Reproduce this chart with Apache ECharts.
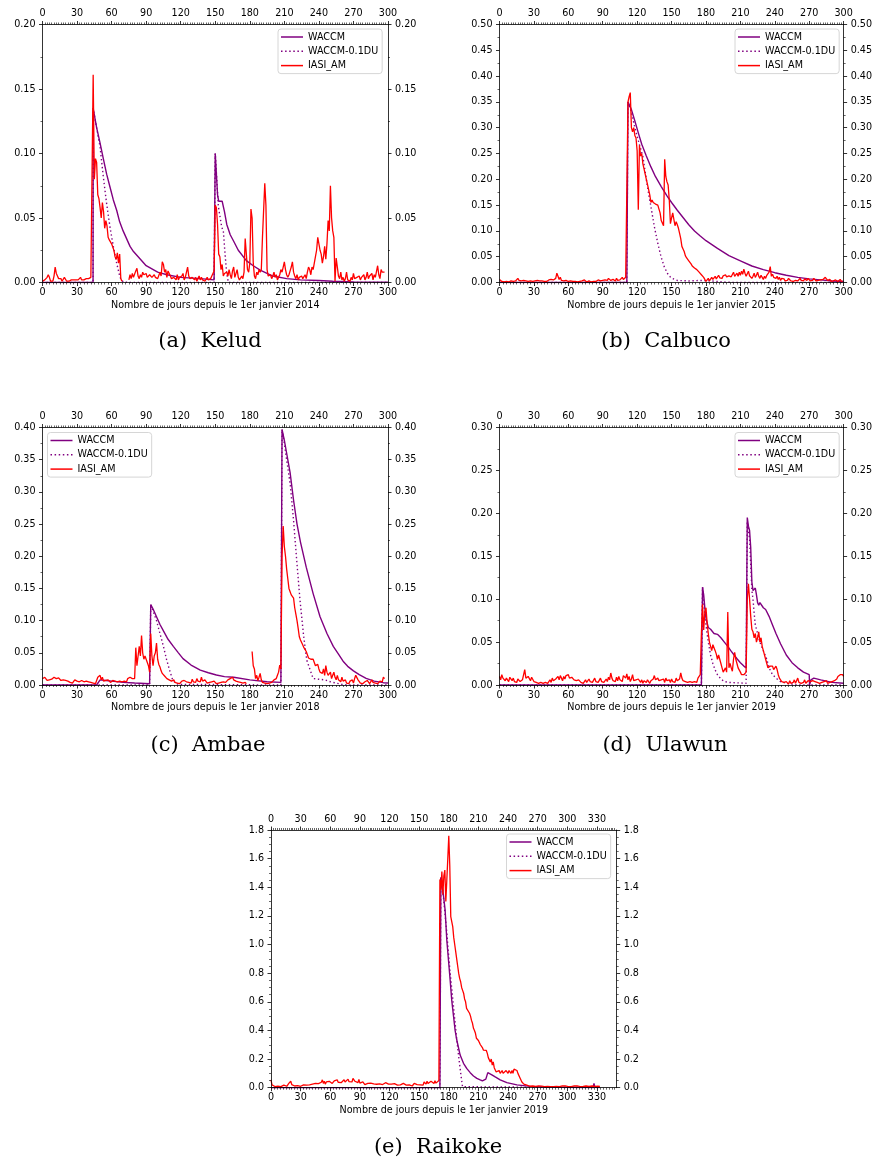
<!DOCTYPE html>
<html><head><meta charset="utf-8">
<script src="https://cdn.jsdelivr.net/npm/echarts@6/dist/echarts.min.js"></script>
<style>html,body{margin:0;padding:0;background:#fff}#c{width:875px;height:1162px}</style>
</head><body><div id="c"></div>
<script>
// ---------- tick labels ----------
const xTicks300 = [0,30,60,90,120,150,180,210,240,270,300];
const xTicks350 = [0,30,60,90,120,150,180,210,240,270,300,330];
const seriesNames = ['WACCM','WACCM-0.1DU','IASI_AM'];

// ---------- (a) Kelud : [day, value] ----------
const waccmKelud = [[0,0],[43.9,0],[44,0.135],[47,0.12],[50,0.108],[52.8,0.096],[55.7,0.084],[58.6,0.074],[61.5,0.064],[64.4,0.056],[67,0.047],[70,0.04],[73,0.034],[76,0.028],[79,0.024],[85,0.018],[90,0.013],[100,0.008],[108,0.006],[120,0.004],[137,0.003],[149,0.002],[150,0.1],[152,0.068],[153,0.063],[156,0.063],[158,0.055],[160,0.045],[163,0.037],[166,0.032],[170,0.025],[177,0.017],[183,0.013],[189,0.0096],[200,0.005],[212,0.003],[224,0.002],[240,0.0015],[252,0.001],[270,0.0005],[300,0.0003]];
const waccm01Kelud = [[0,0],[43.9,0],[44,0.135],[47,0.12],[50,0.105],[52.8,0.082],[55.7,0.061],[58.6,0.043],[61.5,0.028],[64.4,0.015],[67.3,0.004],[70,0.0005],[75,0],[149,0],[150,0.1],[152.7,0.059],[155.6,0.043],[157,0.04],[158.5,0.022],[160,0.007],[161.4,0],[300,0]];
const iasiKelud = [
.001,.002,.002,.003,.004,.006,.004,.001,.002,.001,
.005,.012,.007,.005,.003,.002,.003,.001,.002,.004,
.005,.001,.002,.001,.002,.002,.001,.002,.002,.002,
.003,.002,.003,.004,.002,.003,.002,.002,.003,.004,
.003,.002,.004,.003,.161,.080,.096,.093,.068,.065,
.058,.050,.062,.055,.042,.048,.044,.035,.033,.032,
.030,.029,.025,.020,.018,.023,.015,.022,.003,.001,
null,null,null,null,null,.002,.006,.003,.007,.004,
.003,.009,.011,.005,.003,.006,.004,.008,.006,.005,
.007,.004,.003,.006,.005,.004,.003,.006,.004,.005,
.003,.004,.008,.005,.016,.014,.008,.010,.004,.009,
.010,.005,.003,.002,.004,.003,.002,.006,.002,.004,
.003,.005,.007,.002,.004,.003,.012,.005,.003,.002,
.004,.003,.002,.004,.001,.003,.005,.002,.004,.002,
.003,.001,.002,.004,.002,.001,.003,.005,.007,.009,
.060,.058,.045,.022,.020,.010,.014,.005,.007,.006,
.008,.005,.010,.006,.003,.009,.012,.004,.003,.010,
.004,.002,.001,.005,.003,.008,.034,.033,.010,.008,
.015,.057,.050,.015,.005,.003,.008,.006,.010,.008,
.010,.035,.036,.077,.060,.010,.005,.004,.006,.003,
.005,.008,.004,.006,.002,.004,.006,.010,.008,.012,
.016,.010,.006,.004,.006,.009,.012,.016,.008,.005,
.003,.006,.002,.004,.003,.005,.003,.004,.006,.003,
.008,.012,.010,.006,.012,.010,.015,.020,.025,.035,
.034,.025,.022,.015,.020,.028,.018,.030,.048,.040,
.075,.050,.040,.035,.001,.019,.012,.005,.003,.008,
.002,.004,.001,.003,.008,.002,.003,.001,.004,.002,
.007,.003,.002,.004,.003,.005,.002,.004,.003,.006,
.002,.004,.008,.003,.005,.004,.007,.002,.006,.004,
.005,.013,.006,.003,.010,.008,.009,.008];

// ---------- (b) Calbuco ----------
const waccmCalbuco = [[0,0],[111,0],[112,0.35],[115,0.335],[118,0.313],[121,0.29],[124,0.268],[128,0.245],[132,0.224],[136,0.205],[141,0.186],[146,0.168],[150,0.155],[155,0.14],[160,0.126],[165,0.112],[170,0.1],[175,0.09],[180,0.081],[190,0.066],[200,0.052],[210,0.042],[220,0.032],[230,0.025],[240,0.019],[250,0.014],[260,0.01],[270,0.007],[280,0.005],[290,0.003],[300,0.002]];
const waccm01Calbuco = [[0,0],[111,0],[112,0.35],[115,0.33],[118,0.3],[121,0.275],[125,0.244],[129,0.185],[132,0.147],[135,0.108],[138,0.076],[140.8,0.05],[143.7,0.03],[146.6,0.017],[149.5,0.009],[155,0.004],[165,0.003],[175,0.004],[185,0.003],[195,0.001],[205,0],[300,0]];
const iasiCalbuco = [
.006,.004,.002,.003,.001,.004,.002,.003,.001,.002,
.003,.005,.002,.004,.003,.006,.008,.004,.002,.003,
.001,.004,.002,.003,.005,.002,.001,.003,.004,.002,
.005,.003,.002,.004,.006,.003,.002,.003,.001,.002,
.003,.002,.004,.005,.003,.006,.004,.005,.003,.008,
.018,.012,.006,.010,.004,.005,.003,.002,.004,.003,
.002,.004,.003,.003,.002,.004,.002,.003,.001,.003,
.002,.004,.003,.002,.005,.003,.001,.002,.003,.002,
.001,.003,.002,.004,.002,.003,.005,.002,.003,.006,
.004,.002,.005,.007,.004,.008,.006,.004,.003,.006,
.005,.003,.008,.004,.006,.005,.003,.010,.006,.004,
.010,.012,.350,.360,.368,.300,.292,.300,.285,.280,
.255,.141,.266,.245,.250,.230,.220,.210,.200,.190,
.188,.170,.155,.160,.155,.158,.152,.150,.150,.148,
.135,.120,.118,.110,.239,.205,.195,.189,.160,.114,
.125,.135,.135,.110,.118,.112,.105,.095,.085,.070,
.065,.060,.052,.048,.045,.042,.040,.036,.032,.030,
.028,.025,.025,.022,.020,.020,.015,.018,.010,.008,
.002,.004,.008,.003,.005,.010,.006,.008,.012,.007,
.010,.014,.009,.011,.008,.013,.010,.015,.011,.009,
.013,.016,.011,.014,.020,.012,.015,.018,.012,.020,
.014,.022,.016,.026,.018,.012,.017,.022,.013,.010,
.008,.012,.018,.010,.014,.020,.012,.008,.014,.010,
.006,.012,.008,.014,.015,.020,.031,.012,.016,.010,
.013,.008,.012,.006,.010,.004,.008,.005,.007,.003,
.006,.004,.008,.005,.003,.006,.002,.005,.004,.006,
.003,.005,.008,.004,.006,.003,.007,.005,.004,.008,
.005,.003,.006,.004,.008,.005,.003,.006,.004,.002,
.005,.003,.006,.004,.010,.007,.004,.003,.006,.002,
.004,.003,.001,.005,.003,.002,.004,.006,.002,.003];

// ---------- (c) Ambae ----------
const waccmAmbae = [[0,0],[47,0],[48,0.002],[50,0.008],[55,0.007],[60,0.006],[70,0.004],[80,0.003],[93,0.002],[94,0.125],[96,0.118],[99,0.106],[102,0.094],[105,0.084],[109,0.071],[113.6,0.06],[118,0.05],[122,0.041],[129,0.031],[137,0.023],[144,0.019],[151,0.0155],[158,0.013],[166,0.012],[180,0.008],[195,0.005],[207,0.004],[208,0.397],[210,0.38],[212,0.36],[215,0.33],[218,0.287],[221,0.25],[224,0.222],[229,0.183],[235,0.142],[241,0.106],[247,0.08],[252.5,0.06],[257,0.048],[261,0.037],[265,0.029],[270,0.022],[275,0.016],[281,0.0103],[288,0.006],[296,0.0036],[300,0.003]];
const waccm01Ambae = [[0,0],[93,0],[94,0.125],[96,0.115],[99,0.1],[102,0.08],[105,0.06],[107.8,0.039],[110.7,0.021],[113,0.008],[116,0.002],[120,0.001],[207,0],[208,0.397],[210,0.375],[212,0.35],[215,0.313],[218,0.256],[220.7,0.194],[223.6,0.132],[226.5,0.08],[229.4,0.039],[232.3,0.024],[235,0.01],[240,0.009],[245,0.008],[250,0.005],[255,0.003],[260,0.001],[265,0],[300,0]];
const iasiAmbae = [
.010,.008,.012,.009,.007,.010,.008,.011,.009,.010,
.012,.009,.010,.008,.011,.009,.007,.010,.008,.006,
.007,.005,.006,.008,.004,.005,.003,.006,.008,.010,
.006,.004,.005,.003,.007,.004,.005,.003,.006,.004,
.005,.003,.004,.006,.003,.005,.002,.004,.012,.010,
.015,.008,.012,.006,.009,.007,.005,.008,.006,.004,
.005,.007,.004,.006,.003,.005,.004,.006,.003,.005,
.004,.006,.008,.005,.010,.007,.012,.015,.010,.008,
.010,.058,.030,.045,.060,.045,.077,.050,.040,.045,
.048,.035,.030,.020,.080,.045,.030,.045,.050,.065,
.040,.032,.028,.022,.018,.020,.014,.012,.010,.012,
.008,.010,.006,.005,.008,.004,.006,.003,.005,.002,
.004,.006,.003,.007,.004,.005,.008,.004,.006,.003,
.009,.005,.007,.004,.010,.006,.008,.005,.012,.006,
.004,.008,.005,.003,.006,.004,.007,.005,.003,.006,
.004,.002,.005,.003,.006,.004,.002,.005,.007,.004,
.006,.008,.005,.010,.007,.012,.008,.010,.006,.009,
.005,.008,.004,.006,.003,.005,.004,.002,null,null,
null,null,.052,.030,.025,.010,.015,.007,.012,.018,
.008,.004,.006,.003,.005,.002,.004,.003,.006,.004,
.005,.008,.006,.010,.015,.020,.031,.025,.200,.247,
.215,.200,.180,.165,.150,.145,.140,.142,.135,.120,
.110,.100,.088,.075,.070,.066,.062,.058,.055,.052,
.050,.042,.043,.040,.038,.040,.035,.030,.028,.032,
.025,.020,.022,.018,.025,.015,.030,.020,.015,.012,
.020,.010,.015,.020,.012,.008,.015,.008,.010,.005,
.012,.006,.004,.008,.003,.005,.002,.006,.004,.008,
.003,.010,.015,.016,.008,.005,.003,.006,.002,.004,
.005,.003,.007,.004,.002,.005,.008,.004,.006,.003,
.005,.002,.004,.006,.003,.005,.012,.010];

// ---------- (d) Ulawun ----------
const waccmUlawun = [[0,0],[176,0],[177,0.114],[178,0.105],[179,0.09],[180,0.078],[182,0.067],[184,0.065],[187,0.06],[190,0.059],[193,0.055],[196,0.05],[199,0.045],[201.6,0.04],[204.5,0.035],[207.4,0.03],[210,0.026],[213,0.022],[215,0.02],[216,0.195],[217,0.185],[218,0.18],[219,0.16],[220,0.12],[221,0.11],[222,0.112],[223,0.113],[224,0.105],[225,0.096],[226,0.093],[227,0.096],[228,0.095],[230,0.09],[232,0.088],[235,0.08],[238,0.07],[241,0.06],[245,0.048],[250,0.035],[255,0.026],[260,0.02],[265,0.015],[270,0.012],[270.3,0],[271.5,0.006],[274,0.008],[280,0.006],[290,0.003],[300,0.002]];
const waccm01Ulawun = [[0,0],[176,0],[177,0.114],[178,0.095],[180,0.07],[182,0.05],[184,0.035],[186,0.025],[188,0.0175],[190,0.012],[193,0.007],[196,0.004],[200,0.003],[215,0.002],[216,0.19],[218,0.17],[220,0.11],[221,0.1],[222,0.084],[223,0.07],[225,0.06],[227,0.05],[230,0.04],[233,0.03],[235,0.02],[238,0.012],[242,0.007],[245,0.004],[250,0.002],[255,0.001],[260,0],[300,0]];
const iasiUlawun = [
.010,.006,.012,.008,.010,.005,.008,.006,.004,.009,
.007,.005,.008,.004,.006,.003,.007,.005,.004,.003,
.006,.004,.018,.008,.006,.010,.008,.005,.009,.007,
.004,.006,.003,.005,.002,.004,.003,.005,.002,.004,
.003,.005,.002,.004,.006,.003,.008,.005,.004,.007,
.005,.010,.006,.011,.008,.005,.010,.007,.011,.009,
.012,.008,.010,.009,.007,.006,.004,.005,.003,.006,
.004,.003,.005,.002,.004,.006,.003,.005,.007,.004,
.006,.003,.005,.008,.004,.006,.003,.005,.008,.004,
.006,.003,.005,.007,.004,.009,.006,.014,.008,.005,
.007,.004,.009,.005,.010,.006,.008,.004,.011,.012,
.008,.013,.006,.010,.004,.007,.012,.005,.003,.006,
.004,.007,.005,.003,.006,.002,.005,.004,.003,.006,
.004,.002,.005,.003,.007,.011,.006,.004,.008,.005,
.003,.006,.004,.007,.003,.008,.005,.004,.006,.003,
.007,.004,.006,.003,.008,.005,.004,.007,.014,.008,
.005,.007,.004,.006,.003,.005,.004,.006,.003,.005,
.004,.006,.003,.008,.010,.012,.060,.094,.064,.085,
.090,.072,.060,.050,.045,.040,.047,.046,.040,.036,
.030,.035,.030,.025,.020,.015,.013,.020,.015,.085,
.020,.025,.020,.016,.030,.038,.030,.025,.020,.020,
.015,.012,.010,.012,.010,.015,.100,.118,.100,.080,
.065,.062,.055,.060,.050,.055,.062,.050,.055,.045,
.040,.038,.030,.025,.020,.018,.022,.020,.022,.018,
.020,.022,.018,.012,.008,.006,.004,.005,.003,.002,
.004,.003,.001,.005,.002,.004,.003,.006,.002,.004,
.008,.003,.005,.002,.004,.003,.006,.002,.004,.005,
.003,.004,.002,.005,.003,.004,.002,.003,.005,.002,
.004,.003,.002,.004,.003,.005,.002,.004,.003,.002,
.004,.003,.005,.004,.007,.010,.012,.012,.013,.012,
.010];

// ---------- (e) Raikoke ----------
const waccmRaikoke = [[0,0],[171,0],[172,1.47],[174,1.38],[176.3,1.24],[178,1.03],[179.7,0.89],[181.4,0.75],[183,0.61],[184.8,0.5],[186.4,0.4],[188.1,0.333],[191.5,0.228],[194.9,0.17],[198.3,0.133],[201.7,0.105],[205,0.082],[208.4,0.065],[211.8,0.054],[214,0.047],[215.8,0.058],[217.5,0.06],[219.5,0.105],[221,0.095],[223.6,0.09],[227,0.075],[232,0.055],[238.8,0.035],[249,0.02],[262.5,0.009],[279,0.004],[296,0.002],[326,0.001],[327,0.03],[328,0.002],[333,0.001]];
const waccm01Raikoke = [[0,0],[171,0],[172,1.47],[174.6,1.33],[178,1.08],[181.4,0.8],[184.8,0.566],[188.1,0.333],[190.5,0.19],[192.5,0.077],[193.9,0.007],[195,0],[333,0]];
const iasiRaikoke = [
.055,.020,.010,.015,.008,.012,.020,.010,.006,.015,
.008,.012,.010,.018,.025,.015,.010,.020,.030,.030,
.045,.022,.015,.020,.012,.018,.010,.015,.008,.012,
.010,.018,.012,.020,.015,.010,.018,.012,.016,.020,
.022,.018,.025,.020,.028,.030,.025,.032,.028,.035,
.030,.038,.055,.030,.045,.025,.040,.050,.035,.045,
.038,.052,.030,.042,.048,.035,.040,.055,.038,.045,
.050,.035,.048,.042,.055,.040,.050,.045,.060,.042,
.048,.055,.040,.065,.075,.045,.040,.050,.035,.058,
.032,.045,.028,.040,.030,.022,.035,.025,.030,.028,
.025,.032,.022,.030,.026,.020,.028,.024,.030,.022,
.026,.020,.028,.022,.030,.025,.035,.040,.030,.025,
.032,.028,.025,.030,.022,.028,.020,.025,.018,.022,
.028,.020,.025,.018,.030,.022,.026,.018,.024,.028,
.020,.025,.018,.012,.020,.030,.025,.018,.022,.035,
.028,.020,.024,.030,.018,.040,.032,.025,.045,.030,
.038,.028,.045,.035,.040,.030,.048,.032,.042,.045,
.050,1.455,1.380,1.510,1.350,1.480,1.520,1.300,1.450,1.600,
1.760,1.550,1.195,1.200,1.125,1.050,1.000,.950,.900,.850,
.800,.764,.740,.700,.680,.660,.620,.600,.554,.560,
.550,.520,.500,.470,.450,.415,.400,.380,.345,.340,
.330,.320,.300,.290,.280,.263,.270,.250,.260,.240,
.210,.220,.180,.200,.158,.180,.140,.130,.110,.120,
.100,.120,.100,.110,.120,.100,.110,.100,.120,.110,
.100,.120,.110,.100,.120,.100,.130,.120,.140,.120,
.100,.090,.070,.060,.040,.030,.025,.020,.015,.018,
.012,.015,.010,.013,.008,.012,.010,.014,.009,.011,
.008,.012,.010,.007,.011,.009,.013,.008,.010,.012,
.009,.014,.010,.008,.012,.010,.007,.011,.015,.009,
.010,.012,.008,.011,.009,.013,.010,.008,.012,.009,
.011,.008,.012,.010,.007,.011,.009,.013,.010,.008,
.012,.009,.011,.008,.010,.013,.009,.011,.008,.012,
.010,.015,.009,.011,.008,.012,.010,.007,.009,.011,
.008,.010,.007,.009];

// ---------- layout ----------
const PURPLE = '#800080', RED = '#ff0000';
const FONT = "'DejaVu Sans', sans-serif";
const panels = [
  {grid:{left:42.5, top:24.5, width:345.5, height:258}, ymax:0.20, yint:0.05, yminor:2, ydec:2, xmax:300, xt:xTicks300,
   w:waccmKelud, w01:waccm01Kelud, r:iasiKelud, xname:'Nombre de jours depuis le 1er janvier 2014', lg:[278,29], cap:'(a)  Kelud', cx:210, cy:342},
  {grid:{left:499.5, top:24.5, width:345.5, height:258}, ymax:0.50, yint:0.05, yminor:2, ydec:2, xmax:300, xt:xTicks300,
   w:waccmCalbuco, w01:waccm01Calbuco, r:iasiCalbuco, xname:'Nombre de jours depuis le 1er janvier 2015', lg:[735,29], cap:'(b)  Calbuco', cx:666, cy:342},
  {grid:{left:42.5, top:427.5, width:345.5, height:257.5}, ymax:0.40, yint:0.05, yminor:2, ydec:2, xmax:300, xt:xTicks300,
   w:waccmAmbae, w01:waccm01Ambae, r:iasiAmbae, xname:'Nombre de jours depuis le 1er janvier 2018', lg:[47.5,432.5], cap:'(c)  Ambae', cx:208, cy:746},
  {grid:{left:499.5, top:427.5, width:345.5, height:257.5}, ymax:0.30, yint:0.05, yminor:2, ydec:2, xmax:300, xt:xTicks300,
   w:waccmUlawun, w01:waccm01Ulawun, r:iasiUlawun, xname:'Nombre de jours depuis le 1er janvier 2019', lg:[735,432.5], cap:'(d)  Ulawun', cx:665, cy:746},
  {grid:{left:271, top:830, width:345.7, height:257.7}, ymax:1.8, yint:0.2, yminor:4, ydec:1, xmax:350, xt:xTicks350,
   w:waccmRaikoke, w01:waccm01Raikoke, r:iasiRaikoke, xname:'Nombre de jours depuis le 1er janvier 2019', lg:[506.5,834], cap:'(e)  Raikoke', cx:438, cy:1148}
];

const lineCol = {color:'#000', width:0.8};
const grids = [], xAxes = [], yAxes = [], series = [], legends = [], graphics = [];
const solidIcon = 'path://M0,0H22V1.5H0Z';
const dotIcon = 'path://M0,0h1.5v1.5h-1.5z M4.1,0h1.5v1.5h-1.5z M8.2,0h1.5v1.5h-1.5z M12.3,0h1.5v1.5h-1.5z M16.4,0h1.5v1.5h-1.5z M20.5,0h1.5v1.5h-1.5z';

panels.forEach((p, i) => {
  grids.push(Object.assign({show:false}, p.grid));
  const baseX = {gridIndex:i, type:'value', min:0, max:p.xmax, interval:30, z:5,
    axisLine:{show:true, onZero:false, lineStyle:lineCol},
    splitLine:{show:false}};
  xAxes.push(Object.assign({}, baseX, {position:'bottom',
    axisTick:{show:true, length:3.5, customValues:p.xt, lineStyle:lineCol},
    minorTick:{show:true, splitNumber:10, length:2, lineStyle:{color:'#000', width:0.6}},
    axisLabel:{color:'#000', fontSize:9.6, fontFamily:FONT, margin:5, customValues:p.xt},
    name:p.xname, nameLocation:'middle', nameGap:17.5,
    nameTextStyle:{color:'#000', fontSize:9.6, fontFamily:FONT}}));
  xAxes.push(Object.assign({}, baseX, {position:'top',
    axisTick:{show:true, length:3.5, customValues:p.xt, lineStyle:lineCol},
    minorTick:{show:true, splitNumber:15, length:2, lineStyle:{color:'#000', width:0.6}},
    axisLabel:{color:'#000', fontSize:9.6, fontFamily:FONT, margin:6, customValues:p.xt}}));
  const baseY = {gridIndex:i, type:'value', min:0, max:p.ymax, interval:p.yint, z:5,
    axisLine:{show:true, onZero:false, lineStyle:lineCol},
    axisTick:{show:true, length:3.5, lineStyle:lineCol},
    minorTick:{show:true, splitNumber:p.yminor, length:2, lineStyle:{color:'#000', width:0.6}},
    splitLine:{show:false},
    axisLabel:{color:'#000', fontSize:9.6, fontFamily:FONT, margin:7, formatter:v => v.toFixed(p.ydec)}};
  yAxes.push(Object.assign({}, baseY, {position:'left'}));
  yAxes.push(Object.assign({}, baseY, {position:'right'}));

  series.push({name:seriesNames[0], type:'line', xAxisIndex:2*i, yAxisIndex:2*i, data:p.w,
    symbol:'none', color:PURPLE, lineStyle:{color:PURPLE, width:1.4}, z:2, silent:true, animation:false});
  series.push({name:seriesNames[1], type:'line', xAxisIndex:2*i, yAxisIndex:2*i, data:p.w01,
    symbol:'none', color:PURPLE, lineStyle:{color:PURPLE, width:1.4, type:[1.4,2.6], cap:'butt'}, z:2, silent:true, animation:false});
  series.push({name:seriesNames[2], type:'line', xAxisIndex:2*i, yAxisIndex:2*i,
    data:p.r.map((v, d) => [d, v === null ? '-' : v]),
    symbol:'none', color:RED, lineStyle:{color:RED, width:1.3}, z:3, silent:true, animation:false});

  legends.push({left:p.lg[0], top:p.lg[1], orient:'vertical', selectedMode:false,
    data:[{name:seriesNames[0], icon:solidIcon},{name:seriesNames[1], icon:dotIcon},{name:seriesNames[2], icon:solidIcon}],
    itemWidth:22, itemHeight:10, itemGap:4.3, padding:[3,4,3,3],
    itemStyle:{borderWidth:0},
    backgroundColor:'rgba(255,255,255,0.85)', borderColor:'#cccccc', borderWidth:0.8, borderRadius:3,
    textStyle:{fontFamily:FONT, fontSize:9.6, color:'#000', lineHeight:10}, z:10});

  graphics.push({type:'text', x:p.cx, y:p.cy, style:{text:p.cap, align:'center', verticalAlign:'middle',
    fontFamily:"'DejaVu Serif', serif", fontSize:21, fill:'#000'}});
});

const chart = echarts.init(document.getElementById('c'), null, {renderer:'canvas'});
chart.setOption({
  animation:false, backgroundColor:'#fff',
  grid:grids, xAxis:xAxes, yAxis:yAxes, series:series, legend:legends, graphic:graphics
});
</script></body></html>
